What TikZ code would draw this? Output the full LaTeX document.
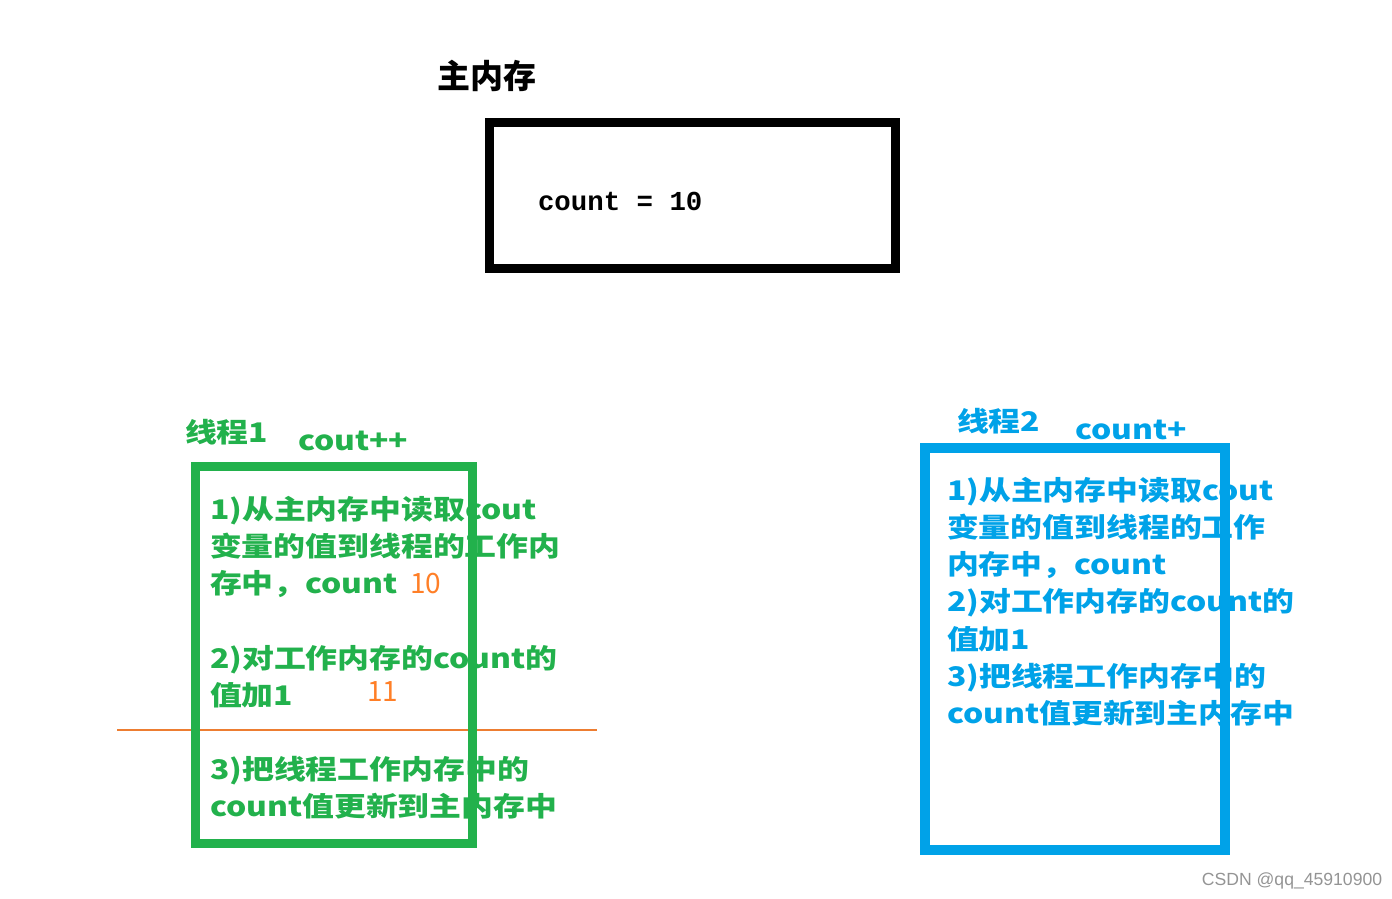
\documentclass[tikz,border=0pt]{standalone}
\usepackage{fontspec}
\newfontfamily\cjk{Noto Sans CJK SC}
\newfontfamily\cjkwide{Noto Sans CJK SC}[FakeStretch=1.18]
\newfontfamily\codefont{Liberation Mono}
\newfontfamily\markfont{Liberation Sans}
\definecolor{tgreen}{RGB}{34,177,76}
\definecolor{tblue}{RGB}{0,162,232}
\definecolor{torange}{RGB}{255,127,39}
\definecolor{tline}{RGB}{237,125,49}

\begin{document}
\begin{tikzpicture}[
  x=0.5pt, y=-0.5pt,
  every node/.style={inner sep=0pt, outer sep=0pt},
  memline/.style={draw=black, line width=4.5pt},
  thread/.style={line width=4.5pt},
  steps/.style={anchor=north west, align=left,
                font=\cjkwide\bfseries\fontsize{13.5}{18.6}\selectfont},
  ttl/.style={anchor=west, font=\cjkwide\bfseries\fontsize{13.5}{18.6}\selectfont},
  val/.style={anchor=west, text=torange, font=\cjk\fontsize{14}{16}\selectfont},
]
  \useasboundingbox (0,0) rectangle (1392,899);

  % main memory
  \node[font=\cjk\bfseries\fontsize{16.5}{18}\selectfont] (memtitle) at (487,76) {主内存};
  \node[anchor=base west, font=\codefont\bfseries\fontsize{13.7}{16}\selectfont]
    (memval) at (538,210) {count = 10};
  \draw[memline] (489.5,122.5) rectangle (895.5,268.5);

  % thread 1
  \node[ttl, text=tgreen] (t1name) at (185,432) {线程1};
  \node[ttl, text=tgreen] (t1op) at (298,441) {cout++};
  \node[steps, text=tgreen] (t1steps) at (210,496)
    {1)从主内存中读取cout\\
     变量的值到线程的工作内\\
     存中，count\\[18.6pt]
     2)对工作内存的count的\\
     值加1\\[18.6pt]
     3)把线程工作内存中的\\
     count值更新到主内存中};
  \node[val] (t1read) at (410,584) {10};
  \node[val] (t1inc) at (367,692) {11};
  \coordinate (cutL) at (117,730);
  \coordinate (cutR) at (597,730);
  \draw[tline, line width=1pt] (cutL) -- (cutR);
  \draw[thread, tgreen] (195.5,466.5) rectangle (472.5,843.5);

  % thread 2
  \node[ttl, text=tblue] (t2name) at (957,421) {线程2};
  \node[ttl, text=tblue] (t2op) at (1075,430) {count+};
  \node[steps, text=tblue] (t2steps) at (947,477)
    {1)从主内存中读取cout\\
     变量的值到线程的工作\\
     内存中，count\\
     2)对工作内存的count的\\
     值加1\\
     3)把线程工作内存中的\\
     count值更新到主内存中};
  \draw[thread, tblue, line width=5pt] (925,448) rectangle (1225,850);

  \node[text=black!42, font=\markfont\fontsize{8.8}{10}\selectfont] (mark) at (1292,881)
    {CSDN @qq\_45910900};
\end{tikzpicture}
\end{document}
